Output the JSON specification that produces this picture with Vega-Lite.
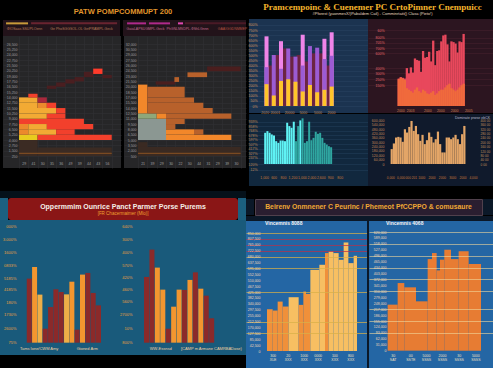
{
"$schema":"https://vega.github.io/schema/vega-lite/v6.json",
"background":"#000000",
"padding":0,
"spacing":0,
"resolve":{"scale":{"color":"independent"}},
"config":{
 "view":{"stroke":null},
 "concat":{"spacing":0},
 "font":"Liberation Sans",
 "axis":{"minExtent":0,"domain":false,"ticks":false,"grid":false,"labelPadding":1,"labelFontSize":3.5,"labelOverlap":false,"labelFlush":false,"labelFont":"Liberation Sans"}
},
"datasets":{
 "hl":[
  {"c0":0,"c1":2,"r0":0,"r1":3,"k":"B"},
  {"c0":2,"c1":10,"r0":0,"r1":1.6,"k":"B"},
  {"c0":0,"c1":10,"r0":0.4,"r1":0.6,"k":"BL"},
  {"c0":0,"c1":2,"r0":3,"r1":4,"k":"Y"},
  {"c0":2,"c1":10,"r0":3,"r1":4,"k":"R"},
  {"c0":0,"c1":1,"r0":4,"r1":5,"k":"O"},
  {"c0":1,"c1":4,"r0":4,"r1":5,"k":"L"},
  {"c0":4,"c1":6,"r0":4,"r1":5,"k":"R"},
  {"c0":0,"c1":1,"r0":5,"r1":6,"k":"O"},
  {"c0":1,"c1":3,"r0":5,"r1":6,"k":"L"},
  {"c0":3,"c1":8,"r0":5,"r1":6,"k":"R"},
  {"c0":0,"c1":7,"r0":6,"r1":7,"k":"R"},
  {"c0":0,"c1":3,"r0":7,"r1":8,"k":"L"},
  {"c0":3,"c1":5,"r0":7,"r1":8,"k":"R"},
  {"c0":0,"c1":4,"r0":8,"r1":9,"k":"L"},
  {"c0":4,"c1":5,"r0":8,"r1":9,"k":"R"},
  {"c0":0,"c1":2,"r0":9,"r1":10,"k":"L"},
  {"c0":2,"c1":3,"r0":9,"r1":10,"k":"O"},
  {"c0":3,"c1":4,"r0":9,"r1":10,"k":"R"},
  {"c0":0,"c1":2,"r0":10,"r1":11,"k":"L"},
  {"c0":2,"c1":3,"r0":10,"r1":11,"k":"C"},
  {"c0":1,"c1":2,"r0":11,"r1":11.7,"k":"R"},
  {"c0":3,"c1":4,"r0":12.6,"r1":13.2,"k":"D"},
  {"c0":4,"c1":5,"r0":13,"r1":13.8,"k":"D"},
  {"c0":5,"c1":6,"r0":13.6,"r1":14.4,"k":"D"},
  {"c0":6,"c1":7,"r0":14,"r1":14.8,"k":"D"},
  {"c0":7,"c1":8,"r0":14.8,"r1":15.8,"k":"D"},
  {"c0":8,"c1":9,"r0":15.4,"r1":16.4,"k":"BR"},
  {"c0":9,"c1":10,"r0":14.6,"r1":15.2,"k":"D"}
 ],
 "hr":[
  {"c0":0,"c1":11,"r0":0,"r1":1.7,"k":"B"},
  {"c0":0,"c1":1,"r0":1.7,"r1":2.6,"k":"B"},
  {"c0":0,"c1":11,"r0":0.4,"r1":0.6,"k":"BL"},
  {"c0":0,"c1":3,"r0":3,"r1":7,"k":"G"},
  {"c0":3,"c1":10,"r0":3,"r1":4,"k":"OB"},
  {"c0":3,"c1":6,"r0":4,"r1":5,"k":"OB"},
  {"c0":6,"c1":7,"r0":4,"r1":5,"k":"OM"},
  {"c0":3,"c1":4,"r0":5,"r1":6,"k":"OM"},
  {"c0":3,"c1":5,"r0":6,"r1":7,"k":"OM"},
  {"c0":0,"c1":2,"r0":7,"r1":8,"k":"GG"},
  {"c0":2,"c1":3,"r0":7,"r1":8,"k":"OB"},
  {"c0":3,"c1":10,"r0":7,"r1":8,"k":"OM"},
  {"c0":0,"c1":1,"r0":8,"r1":13.4,"k":"OB"},
  {"c0":1,"c1":8,"r0":8,"r1":9,"k":"OM"},
  {"c0":1,"c1":7,"r0":9,"r1":10,"k":"OM"},
  {"c0":1,"c1":6,"r0":10,"r1":11,"k":"OM"},
  {"c0":1,"c1":5,"r0":11,"r1":13,"k":"OM"},
  {"c0":1.9,"c1":4,"r0":13.4,"r1":14,"k":"D"},
  {"c0":3.9,"c1":4.4,"r0":13.9,"r1":14.8,"k":"OM"},
  {"c0":5.3,"c1":7.4,"r0":14.8,"r1":15.7,"k":"OM"},
  {"c0":7.4,"c1":11,"r0":15.9,"r1":16.8,"k":"D"}
 ],
 "tra":[{"i":1,"Y":27,"P":48},{"i":2,"Y":13,"P":63},{"i":3,"Y":31,"P":46},{"i":4,"Y":33,"P":71},{"i":5,"Y":30,"P":61},{"i":6,"Y":18,"P":50},{"i":7,"Y":26,"P":74},{"i":8,"Y":17,"P":72},{"i":9,"Y":20,"P":58},{"i":10,"Y":24,"P":62}],
 "trak":[{"i":1,"K":86},{"i":3,"K":80},{"i":6,"K":88},{"i":9,"K":83},{"i":10,"K":91}],
 "trad":[{"j":1.5,"v":50},{"j":2.5,"v":63},{"j":3.5,"v":71},{"j":4.5,"v":61},{"j":5.5,"v":63},{"j":6.5,"v":55},{"j":7.5,"v":65},{"j":8.5,"v":65},{"j":9.5,"v":50}],
 "trb":[{"i":1,"R":37,"O":36},{"i":2,"R":39,"O":38},{"i":3,"R":38,"O":37},{"i":4,"R":37,"O":35},{"i":5,"R":51,"O":24},{"i":6,"R":44,"O":22},{"i":7,"R":52,"O":20},{"i":8,"R":45,"O":18},{"i":9,"R":64,"O":22},{"i":10,"R":62,"O":25},{"i":11,"R":61,"O":20},{"i":12,"R":46,"O":18},{"i":13,"R":74,"O":22},{"i":14,"R":65,"O":20},{"i":15,"R":66,"O":17},{"i":16,"R":73,"O":16},{"i":17,"R":60,"O":18},{"i":18,"R":88,"O":20},{"i":19,"R":55,"O":15},{"i":20,"R":74,"O":17},{"i":21,"R":75,"O":20},{"i":22,"R":87,"O":22},{"i":23,"R":95,"O":22},{"i":24,"R":96,"O":25},{"i":25,"R":83,"O":28},{"i":26,"R":60,"O":30},{"i":27,"R":87,"O":24},{"i":28,"R":86,"O":22},{"i":29,"R":84,"O":20},{"i":30,"R":72,"O":22},{"i":31,"R":87,"O":25},{"i":32,"R":86,"O":28},{"i":33,"R":97,"O":30}],
 "trc":[{"i":1,"v":67.4,"c":"c"},{"i":2,"v":71.0,"c":"c"},{"i":3,"v":67.4,"c":"c"},{"i":4,"v":63.8,"c":"c"},{"i":5,"v":61.6,"c":"c"},{"i":6,"v":49.3,"c":"c"},{"i":7,"v":45.7,"c":"c"},{"i":8,"v":50.7,"c":"c"},{"i":9,"v":50.7,"c":"c"},{"i":10,"v":49.3,"c":"c"},{"i":11,"v":89.1,"c":"c"},{"i":12,"v":81.9,"c":"c"},{"i":13,"v":78.3,"c":"c"},{"i":14,"v":91.3,"c":"c"},{"i":15,"v":49.3,"c":"t"},{"i":16,"v":81.9,"c":"t"},{"i":17,"v":94.2,"c":"c"},{"i":18,"v":98.6,"c":"t"},{"i":19,"v":45.7,"c":"t"},{"i":20,"v":49.3,"c":"t"},{"i":21,"v":91.3,"c":"t"},{"i":22,"v":51.4,"c":"t"},{"i":23,"v":56.5,"c":"t"},{"i":24,"v":69.6,"c":"t"},{"i":25,"v":65.2,"c":"t"},{"i":26,"v":67.4,"c":"t"},{"i":27,"v":56.5,"c":"t"},{"i":28,"v":45.7,"c":"t"},{"i":29,"v":42.0,"c":"t"},{"i":30,"v":38.4,"c":"t"},{"i":31,"v":36.2,"c":"t"}],
 "trd":[{"i":1,"v":34.1},{"i":2,"v":47.0},{"i":3,"v":60.6},{"i":4,"v":62.1},{"i":5,"v":60.6},{"i":6,"v":50.8},{"i":7,"v":79.5},{"i":8,"v":72.0},{"i":9,"v":84.8},{"i":10,"v":98.5},{"i":11,"v":75.8},{"i":12,"v":87.1},{"i":13,"v":68.2},{"i":14,"v":53.0},{"i":15,"v":66.7},{"i":16,"v":45.5},{"i":17,"v":54.5},{"i":18,"v":72.0},{"i":19,"v":62.1},{"i":20,"v":49.2},{"i":21,"v":56.8},{"i":22,"v":74.2},{"i":23,"v":45.5},{"i":24,"v":26.5},{"i":25,"v":26.5},{"i":26,"v":60.6},{"i":27,"v":60.6},{"i":28,"v":56.8},{"i":29,"v":60.6},{"i":30,"v":66.7},{"i":31,"v":56.8},{"i":32,"v":45.5},{"i":33,"v":68.2},{"i":34,"v":87.1}],
 "bla":[{"i":1,"v":54.1,"c":"d"},{"i":2,"v":63.9,"c":"o"},{"i":3,"v":40.6,"c":"l"},{"i":4,"v":11.8,"c":"d"},{"i":5,"v":30.1,"c":"d"},{"i":6,"v":45.1,"c":"d"},{"i":7,"v":42.8,"c":"d"},{"i":8,"v":40.8,"c":"l"},{"i":9,"v":51.5,"c":"o"},{"i":10,"v":11.0,"c":"d"},{"i":11,"v":57.5,"c":"o"},{"i":12,"v":58.9,"c":"d"},{"i":13,"v":42.0,"c":"d"},{"i":14,"v":31.5,"c":"d"}],
 "blb":[{"i":1,"v":55.5,"c":"d"},{"i":2,"v":78.6,"c":"d"},{"i":3,"v":63.4,"c":"o"},{"i":4,"v":44.8,"c":"o"},{"i":5,"v":11.8,"c":"d"},{"i":6,"v":30.4,"c":"o"},{"i":7,"v":44.8,"c":"o"},{"i":8,"v":44.5,"c":"d"},{"i":9,"v":53.0,"c":"o"},{"i":10,"v":59.4,"c":"d"},{"i":11,"v":45.6,"c":"o"},{"i":12,"v":39.7,"c":"d"},{"i":13,"v":20.6,"c":"d"}],
 "bra":[{"x0":0,"x1":1.13,"v":35.4,"k":"o"},{"x0":1.13,"x1":2.13,"v":34.3,"k":"o"},{"x0":2.13,"x1":3.13,"v":41.9,"k":"o"},{"x0":3.13,"x1":4.33,"v":37.7,"k":"o"},{"x0":4.33,"x1":6.33,"v":45.6,"k":"g"},{"x0":6.33,"x1":7.27,"v":39.1,"k":"o"},{"x0":7.27,"x1":7.8,"v":50.4,"k":"o"},{"x0":7.8,"x1":8.67,"v":48.4,"k":"o"},{"x0":8.67,"x1":10.47,"v":68.8,"k":"g"},{"x0":10.47,"x1":11.6,"v":73.1,"k":"g"},{"x0":11.6,"x1":12.33,"v":83.0,"k":"o"},{"x0":12.33,"x1":13.27,"v":84.4,"k":"g"},{"x0":13.27,"x1":14.33,"v":83.0,"k":"g"},{"x0":14.33,"x1":15.33,"v":77.3,"k":"g"},{"x0":15.33,"x1":16.27,"v":92.0,"k":"g"},{"x0":16.27,"x1":17.33,"v":74.5,"k":"g"},{"x0":17.33,"x1":18.0,"v":80.7,"k":"g"}],
 "brb":[{"x0":0,"x1":2,"v":38.8},{"x0":2,"x1":3.33,"v":57.0},{"x0":3.33,"x1":5.67,"v":53.4},{"x0":5.67,"x1":8,"v":41.6},{"x0":8,"x1":8.87,"v":77.2},{"x0":8.87,"x1":9.8,"v":82.3},{"x0":9.8,"x1":10.47,"v":67.7},{"x0":10.47,"x1":11.33,"v":76.7},{"x0":11.33,"x1":12.67,"v":85.1},{"x0":12.67,"x1":14.2,"v":77.2},{"x0":14.2,"x1":16.2,"v":83.7},{"x0":16.2,"x1":18.67,"v":73.0}],
 "leg":[{"a":"ΦIOSaas.SSUPLOenn","b":"Ge PhoSGGSOL.OL GetPRAMPL.Geck","c":"GaiaLAPSUGMPL.Geck","d":"PhGNLMSDPL.ΦShLGnnn","e":"GAAIGGDNMMEP"}]
},
"vconcat":[
 {"resolve":{"scale":{"color":"independent"}},"hconcat":[
  {"resolve":{"scale":{"color":"independent"}},"vconcat":[
   {"width":246,"height":20,"data":{"values":[{"t":"PATW POMPCOMMUPT 200"}]},"mark":{"type":"text","fontSize":7.5,"fontWeight":"bold","color":"#e0952c","dy":2},"encoding":{"text":{"field":"t","type":"nominal"}}},
   {"resolve":{"scale":{"color":"independent"}},"hconcat":[
    {"width":3,"height":16,"data":{"values":[]},"mark":"text"},
    {"width":117,"height":16,"view":{"fill":"#22131a"},"data":{"name":"leg"},"resolve":{"axis":{"x":"independent","y":"independent"}},"layer":[
      {"mark":{"type":"rule","color":"#c89a3a","strokeWidth":2},"encoding":{"x":{"datum":0.026,"type":"quantitative","scale":{"domain":[0,1],"nice":false,"zero":false},"axis":null},"x2":{"datum":0.214},"y":{"datum":0.79,"type":"quantitative","scale":{"domain":[0,1],"nice":false,"zero":false},"axis":null}}},
      {"mark":{"type":"rule","color":"#6a2430","strokeWidth":2},"encoding":{"x":{"datum":0.24,"type":"quantitative","axis":null},"x2":{"datum":0.975},"y":{"datum":0.79,"type":"quantitative","axis":null}}},
      {"mark":{"type":"text","fontSize":3.5,"color":"#b87a58","dx":-37,"dy":0.5},"encoding":{"text":{"field":"a","type":"nominal"}}},
      {"mark":{"type":"text","fontSize":3.5,"color":"#b87a58","dx":20,"dy":0.5},"encoding":{"text":{"field":"b","type":"nominal"}}}]},
    {"width":3,"height":16,"data":{"values":[]},"mark":"text"},
    {"width":123,"height":16,"view":{"fill":"#22131a"},"data":{"name":"leg"},"resolve":{"axis":{"x":"independent","y":"independent"}},"layer":[
      {"mark":{"type":"rule","color":"#b02a8a","strokeWidth":2},"encoding":{"x":{"datum":0.033,"type":"quantitative","scale":{"domain":[0,1],"nice":false,"zero":false},"axis":null},"x2":{"datum":0.187},"y":{"datum":0.79,"type":"quantitative","scale":{"domain":[0,1],"nice":false,"zero":false},"axis":null}}},
      {"mark":{"type":"rule","color":"#b02a8a","strokeWidth":2},"encoding":{"x":{"datum":0.211,"type":"quantitative","axis":null},"x2":{"datum":0.382},"y":{"datum":0.79,"type":"quantitative","axis":null}}},
      {"mark":{"type":"rule","color":"#e048b0","strokeWidth":2},"encoding":{"x":{"datum":0.447,"type":"quantitative","axis":null},"x2":{"datum":0.488},"y":{"datum":0.79,"type":"quantitative","axis":null}}},
      {"mark":{"type":"rule","color":"#4a1a26","strokeWidth":2},"encoding":{"x":{"datum":0.504,"type":"quantitative","axis":null},"x2":{"datum":1.0},"y":{"datum":0.79,"type":"quantitative","axis":null}}},
      {"mark":{"type":"text","fontSize":3.5,"color":"#c06a90","dx":-39,"dy":0.5},"encoding":{"text":{"field":"c","type":"nominal"}}},
      {"mark":{"type":"text","fontSize":3.5,"color":"#c06a90","dx":3,"dy":0.5},"encoding":{"text":{"field":"d","type":"nominal"}}},
      {"mark":{"type":"text","fontSize":3.5,"color":"#b05040","dx":48,"dy":0.5},"encoding":{"text":{"field":"e","type":"nominal"}}}]}
   ],"spacing":0},
   {"resolve":{"scale":{"color":"independent"}},"hconcat":[
    {"width":3,"height":132,"data":{"values":[]},"mark":"text"},
    {"width":118,"height":132,"view":{"fill":"#262628"},"resolve":{"axis":{"x":"independent","y":"independent"}},"layer":[
      {"data":{"name":"hl"},"mark":{"type":"rect"},"encoding":{
        "x":{"field":"c0","type":"quantitative","scale":{"domain":[-1.73,11.0],"nice":false,"zero":false},"axis":{"title":null,"orient":"bottom","values":[0,1,2,3,4,5,6,7,8,9,10],"labelExpr":"['29','41','30','35','36','49','39','44','43','56',''][datum.value]","labelOffset":4.6,"offset":-8,"grid":true,"gridColor":"#313134","gridWidth":0.6,"labelColor":"#a0a0a0"}},
        "x2":{"field":"c1"},
        "y":{"field":"r0","type":"quantitative","scale":{"domain":[-2.25,22.52],"nice":false,"zero":false},"axis":{"title":null,"orient":"left","values":[0,1,2,3,4,5,6,7,8,9,10,11,12,13,14,15,16,17,18,19,20,21],"labelExpr":"format(datum.value*1250+250,',')","offset":-15,"grid":true,"gridColor":"#313134","gridWidth":0.6,"labelColor":"#9a9a9a"}},
        "y2":{"field":"r1"},
        "color":{"field":"k","type":"nominal","scale":{"domain":["Y","L","O","R","C","D","BR","B","BL"],"range":["#e8cc1e","#f2aa34","#ec8a2c","#f2402c","#a8283c","#4a1e20","#ff3b2b","#3b2b23","#7a4a22"]},"legend":null}}},
      {"mark":{"type":"rule","color":"#b5b5b5","strokeWidth":1},"encoding":{"x":{"datum":-0.2,"axis":null},"x2":{"datum":10.6},"y":{"datum":0,"axis":null}}}
    ]},
    {"width":3,"height":132,"data":{"values":[]},"mark":"text"},
    {"width":122,"height":132,"view":{"fill":"#262628"},"resolve":{"axis":{"x":"independent","y":"independent"}},"layer":[
      {"data":{"name":"hr"},"mark":{"type":"rect"},"encoding":{
        "x":{"field":"c0","type":"quantitative","scale":{"domain":[-1.5,11.57],"nice":false,"zero":false},"axis":{"title":null,"orient":"bottom","values":[0,1,2,3,4,5,6,7,8,9,10,11],"labelExpr":"['21','39','29','30','22','30','44','31','29','39','30',''][datum.value]","labelOffset":4.6,"offset":-8,"grid":true,"gridColor":"#313134","gridWidth":0.6,"labelColor":"#a0a0a0"}},
        "x2":{"field":"c1"},
        "y":{"field":"r0","type":"quantitative","scale":{"domain":[-2.25,22.52],"nice":false,"zero":false},"axis":{"title":null,"orient":"left","values":[0,1,2,3,4,5,6,7,8,9,10,11,12,13,14,15,16,17,18,19,20,21],"labelExpr":"format(datum.value*1500+500,',')","offset":-13,"grid":true,"gridColor":"#313134","gridWidth":0.6,"labelColor":"#9a9a9a"}},
        "y2":{"field":"r1"},
        "color":{"field":"k","type":"nominal","scale":{"domain":["G","GG","OB","OM","D","B","BL"],"range":["#8b9792","#8fa77a","#f2872a","#b8612b","#4a1e1e","#3a2a22","#7a4a22"]},"legend":null}}},
      {"mark":{"type":"rule","color":"#b5b5b5","strokeWidth":1},"encoding":{"x":{"datum":-0.2,"axis":null},"x2":{"datum":11.4},"y":{"datum":0,"axis":null}}}
    ]}
   ],"spacing":0}
  ],"spacing":0},
  {"resolve":{"scale":{"color":"independent"}},"vconcat":[
   {"width":247,"height":19,"data":{"values":[{"t":"Pramcempoinc & Cuenemer  PC CrtoPimner  Cnempuicc","s":"#Pforest (yuonmesX/)Pabaldem Cail) - Comminrtaiti() Clasa (Pieto!)"}]},"layer":[
     {"mark":{"type":"text","font":"Liberation Serif","fontSize":9,"fontWeight":"bold","color":"#f4b42c","dy":-3},"encoding":{"text":{"field":"t","type":"nominal"}}},
     {"mark":{"type":"text","fontSize":4,"color":"#e8dcc0","dy":4.5},"encoding":{"text":{"field":"s","type":"nominal"}}}]},
   {"resolve":{"scale":{"color":"independent"}},"hconcat":[
    {"width":119,"height":94,"view":{"fill":"#1b3350"},"resolve":{"axis":{"x":"independent","y":"independent"}},"layer":[
      {"data":{"name":"trad"},"mark":{"type":"bar","size":5,"color":"#6b2443"},"encoding":{
        "x":{"field":"j","type":"quantitative","scale":{"domain":[-0.73,14.33],"nice":false,"zero":false},"axis":{"title":null,"orient":"bottom","values":[0.75,2.14,4.11,6.01,8.04,9.9],"labelExpr":"['2020','20001','20000','5000','5000','2000'][indexof([0.75,2.14,4.11,6.01,8.04,9.9],datum.value)]","offset":-4,"labelColor":"#c89060"}},
        "y":{"field":"v","type":"quantitative","scale":{"domain":[-8.6,107.4],"nice":false,"zero":false},"axis":{"title":null,"orient":"left","values":[0,6.25,12.5,18.75,25,31.25,37.5,43.75,50,56.25,62.5,68.75,75,81.25,87.5,93.75,100],"labelExpr":"format(datum.value*8,'d')+'%'","offset":-9,"grid":true,"gridColor":"#2b4562","gridWidth":0.5,"labelColor":"#d0955a"}},
        "y2":{"datum":0}}},
      {"data":{"name":"trak"},"mark":{"type":"bar","size":4,"color":"#ef84e8"},"encoding":{"x":{"field":"i","type":"quantitative","axis":null},"y":{"field":"K","type":"quantitative","axis":null},"y2":{"datum":0}}},
      {"data":{"name":"tra"},"mark":{"type":"bar","size":4,"color":"#9b5bd3"},"encoding":{"x":{"field":"i","type":"quantitative","axis":null},"y":{"field":"P","type":"quantitative","axis":null},"y2":{"datum":0}}},
      {"data":{"name":"tra"},"mark":{"type":"bar","size":4,"color":"#ffc52a"},"encoding":{"x":{"field":"i","type":"quantitative","axis":null},"y":{"field":"Y","type":"quantitative","axis":null},"y2":{"datum":0}}},
      {"mark":{"type":"rule","color":"#8598ad","strokeWidth":0.8},"encoding":{"x":{"datum":12.18,"axis":null},"y":{"datum":-2.5,"axis":null},"y2":{"datum":106}}},
      {"mark":{"type":"rule","color":"#8598ad","strokeWidth":0.8},"encoding":{"x":{"datum":0.55,"axis":null},"x2":{"datum":12.18},"y":{"datum":-2.5,"axis":null}}}
    ]},
    {"width":128,"height":94,"view":{"fill":"#2c1520"},"resolve":{"axis":{"x":"independent","y":"independent"}},"layer":[
      {"data":{"name":"trb"},"mark":{"type":"bar","size":2.3,"color":"#e8485c"},"encoding":{
        "x":{"field":"i","type":"quantitative","scale":{"domain":[-11.7,46.5],"nice":false,"zero":false},"axis":{"title":null,"orient":"bottom","values":[1.8,6.6,15.1,21.5,28.3,35.3],"labelExpr":"['2000','2003','2000','2000','2000','2005'][indexof([1.8,6.6,15.1,21.5,28.3,35.3],datum.value)]","offset":-6,"labelColor":"#c88050"}},
        "y":{"field":"R","type":"quantitative","scale":{"domain":[-9.4,117.1],"nice":false,"zero":false},"axis":{"title":null,"orient":"left","values":[28,36,44,51,71,78,85,92,102],"labelExpr":"['150%','250%','300%','400%','600%','700%','705%','800%','60%'][indexof([28,36,44,51,71,78,85,92,102],datum.value)]","offset":-17,"grid":true,"gridColor":"#45202c","gridWidth":0.6,"labelColor":"#e06a6a"}},
        "y2":{"datum":0}}},
      {"data":{"name":"trb"},"mark":{"type":"bar","size":2.3,"color":"#f06a3c"},"encoding":{"x":{"field":"i","type":"quantitative","axis":null},"y":{"field":"O","type":"quantitative","axis":null},"y2":{"datum":0}}},
      {"mark":{"type":"rule","color":"#8c8ca0","strokeWidth":0.8},"encoding":{"x":{"datum":42.8,"axis":null},"y":{"datum":-3,"axis":null},"y2":{"datum":112}}},
      {"mark":{"type":"rule","color":"#6a3a48","strokeWidth":0.8},"encoding":{"x":{"datum":-8,"axis":null},"x2":{"datum":42.8},"y":{"datum":-3,"axis":null}}}
    ]}
   ],"spacing":0},
   {"resolve":{"scale":{"color":"independent"}},"hconcat":[
    {"width":119,"height":72,"view":{"fill":"#11283e"},"resolve":{"axis":{"x":"independent","y":"independent"}},"layer":[
      {"data":{"name":"trc"},"mark":{"type":"bar","size":2},"encoding":{
        "x":{"field":"i","type":"quantitative","scale":{"domain":[-4.1,45.5],"nice":false,"zero":false},"axis":{"title":null,"orient":"bottom","values":[0.5,4.8,9.1,13.4,17.7,22,26.3,30.6,34.9],"labelExpr":"['1,000','600','800','1,200','1,000','2,000','2,600','900','800'][indexof([0.5,4.8,9.1,13.4,17.7,22,26.3,30.6,34.9],datum.value)]","offset":-12,"labelColor":"#c8783c"}},
        "y":{"field":"v","type":"quantitative","scale":{"domain":[-47.5,108],"nice":false,"zero":false},"axis":{"title":null,"orient":"left","values":[-12,0,13,23,33,43,53,62,72,82,91],"labelExpr":"format(datum.value*9+120,'d')+'%'","offset":-9,"grid":true,"gridColor":"#24405c","gridWidth":0.5,"labelColor":"#c08850"}},
        "y2":{"datum":0},
        "color":{"field":"c","type":"nominal","scale":{"domain":["c","t"],"range":["#5ff2f4","#2fa6a0"]},"legend":null}}},
      {"mark":{"type":"rule","color":"#3aa088","strokeWidth":1.5},"encoding":{"x":{"datum":0.5,"axis":null},"x2":{"datum":44},"y":{"datum":0,"axis":null}}},
      {"mark":{"type":"rule","color":"#8a9aac","strokeWidth":0.8},"encoding":{"x":{"datum":38.4,"axis":null},"y":{"datum":-25,"axis":null},"y2":{"datum":105}}},
      {"mark":{"type":"rule","color":"#5a6a7a","strokeWidth":0.8},"encoding":{"x":{"datum":0,"axis":null},"y":{"datum":-25,"axis":null},"y2":{"datum":105}}}
    ]},
    {"width":128,"height":72,"view":{"fill":"#101a2c"},"resolve":{"axis":{"x":"independent","y":"independent"}},"title":{"text":"Dominate prwse ebCK","anchor":"end","frame":"group","offset":-7,"dx":-6,"fontSize":3.5,"color":"#b8b8c8","baseline":"middle","fontWeight":"normal"},"layer":[
      {"data":{"name":"trd"},"mark":{"type":"bar","size":2.2,"color":"#e3a567"},"encoding":{
        "x":{"field":"i","type":"quantitative","scale":{"domain":[-7.5,46.1],"nice":false,"zero":false},"axis":{"title":null,"orient":"bottom","values":[0.33,5,9.7,14.4,19.1,23.8,28.5,33.2,37.9],"labelExpr":"['0,000','0,000','000 201','1000','2000','2000','3000','2000','4,000'][indexof([0.33,5,9.7,14.4,19.1,23.8,28.5,33.2,37.9],datum.value)]","offset":-12,"labelColor":"#c8783c","labelFontSize":3.2}},
        "y":{"field":"v","type":"quantitative","scale":{"domain":[-50.3,114.4],"nice":false,"zero":false},"axis":{"title":null,"orient":"left","values":[0,10,20,30,40,50,60,70,80,90,100],"labelExpr":"format(datum.value*6000,',d')","offset":-17,"labelColor":"#c08a5a"}},
        "y2":{"datum":0}}},
      {"data":{"name":"trd"},"mark":{"type":"bar","size":2.2,"opacity":0},"encoding":{
        "x":{"field":"i","type":"quantitative","axis":null},
        "y":{"field":"v","type":"quantitative","axis":{"title":null,"orient":"right","values":[0,10,20,30,40,50,60,70,80,90,100],"labelExpr":"format(datum.value*4,'d')+' 00'","offset":-17,"labelColor":"#c0905c","labelFontSize":3.2}},
        "y2":{"datum":0}}},
      {"mark":{"type":"rule","color":"#7a8296","strokeWidth":0.8},"encoding":{"x":{"datum":-0.38,"axis":null},"y":{"datum":-15,"axis":null},"y2":{"datum":110}}}
    ]}
   ],"spacing":0},
   {"width":247,"height":5,"data":{"values":[]},"mark":"text"}
  ],"spacing":0}
 ],"spacing":0},
 {"resolve":{"scale":{"color":"independent"}},"hconcat":[
  {"resolve":{"scale":{"color":"independent"}},"vconcat":[
   {"width":246,"height":7,"view":{"fill":"#05111a"},"data":{"values":[]},"mark":"text"},
   {"resolve":{"scale":{"color":"independent"}},"hconcat":[
    {"width":8,"height":22,"view":{"fill":"#1c6080"},"data":{"values":[]},"mark":"text"},
    {"width":230,"height":22,"view":{"fill":"#8a1616","cornerRadius":3},"data":{"values":[{"t":"Oppermmim Ounrice Panct Parmer Porse Purems","s":"[FR Chacermaimer (Mlo)]"}]},"layer":[
      {"mark":{"type":"text","fontSize":7,"fontWeight":"bold","color":"#f4eee8","dy":-2.5},"encoding":{"text":{"field":"t","type":"nominal"}}},
      {"mark":{"type":"text","fontSize":4.5,"color":"#f0a030","dy":5},"encoding":{"text":{"field":"s","type":"nominal"}}}]},
    {"width":8,"height":22,"view":{"fill":"#1c6080"},"data":{"values":[]},"mark":"text"}
   ],"spacing":0},
   {"resolve":{"scale":{"color":"independent"}},"hconcat":[
    {"width":118,"height":135,"view":{"fill":"#195a7b"},"resolve":{"axis":{"x":"independent","y":"independent"}},"layer":[
      {"mark":{"type":"rule","color":"#4f8fae","strokeWidth":0.8},"encoding":{"x":{"datum":4.7,"axis":null}}},
      {"mark":{"type":"rule","color":"#4f8fae","strokeWidth":0.8},"encoding":{"x":{"datum":10.71,"axis":null}}},
      {"mark":{"type":"rect","color":"#7a1414","cornerRadius":2},"encoding":{"x":{"datum":-2.18,"axis":null},"x2":{"datum":16.72},"y":{"datum":-0.8,"axis":null},"y2":{"datum":-10.4}}},
      {"data":{"name":"bla"},"mark":{"type":"bar","size":5},"encoding":{
        "x":{"field":"i","type":"quantitative","scale":{"domain":[-3.55,16.72],"nice":false,"zero":false},"axis":{"title":null,"orient":"bottom","values":[2.76,11.79],"labelExpr":"['Tams Ione/CWM Amy','Gioned Arm'][indexof([2.76,11.79],datum.value)]","offset":-10,"labelColor":"#f0d0a0","labelFontSize":4}},
        "y":{"field":"v","type":"quantitative","scale":{"domain":[-10.4,103.6],"nice":false,"zero":false},"axis":{"title":null,"orient":"left","values":[0,12,24,34,44.5,54.6,65,76,87,98],"labelExpr":"['75%','2600%','1730%','180%','4185%','5185%','0833%','1600%','3.000%','000%'][indexof([0,12,24,34,44.5,54.6,65,76,87,98],datum.value)]","offset":-17,"labelColor":"#eaa040","labelFontSize":4}},
        "y2":{"datum":0},
        "color":{"field":"c","type":"nominal","scale":{"domain":["o","l","d"],"range":["#f3962f","#eeae47","#8b2a2a"]},"legend":null}}},
      {"mark":{"type":"rule","color":"#e08a3a","strokeWidth":0.8},"encoding":{"x":{"datum":-2.18,"axis":null},"x2":{"datum":16.72},"y":{"datum":0,"axis":null}}}
    ]},
    {"width":128,"height":135,"view":{"fill":"#195a7b"},"resolve":{"axis":{"x":"independent","y":"independent"}},"layer":[
      {"mark":{"type":"rule","color":"#4f8fae","strokeWidth":0.8},"encoding":{"x":{"datum":2.61,"axis":null}}},
      {"mark":{"type":"rule","color":"#4f8fae","strokeWidth":0.8},"encoding":{"x":{"datum":7.71,"axis":null}}},
      {"mark":{"type":"rule","color":"#4f8fae","strokeWidth":0.8},"encoding":{"x":{"datum":15.18,"axis":null}}},
      {"mark":{"type":"rect","color":"#7a1414","cornerRadius":2},"encoding":{"x":{"datum":-1.12,"axis":null},"x2":{"datum":17.04},"y":{"datum":-0.8,"axis":null},"y2":{"datum":-10.4}}},
      {"data":{"name":"blb"},"mark":{"type":"bar","size":5},"encoding":{
        "x":{"field":"i","type":"quantitative","scale":{"domain":[-3.33,18.4],"nice":false,"zero":false},"axis":{"title":null,"orient":"bottom","values":[3.51,12.85],"labelExpr":"['WW-Essnsd','[CAMP m Armane CAMRBADose)'][indexof([3.51,12.85],datum.value)]","offset":-10,"labelColor":"#f0d0a0","labelFontSize":4}},
        "y":{"field":"v","type":"quantitative","scale":{"domain":[-10.4,103.6],"nice":false,"zero":false},"axis":{"title":null,"orient":"left","values":[0,12.1,23.9,34.4,44.5,54.9,64.8,76.1,86.8,98],"labelExpr":"['800%','10%','2700%','560%','460%','420%','570%','400%','300%','640%'][indexof([0,12.1,23.9,34.4,44.5,54.9,64.8,76.1,86.8,98],datum.value)]","offset":-15,"labelColor":"#eaa040","labelFontSize":4}},
        "y2":{"datum":0},
        "color":{"field":"c","type":"nominal","scale":{"domain":["o","l","d"],"range":["#f3962f","#eeae47","#8b2a2a"]},"legend":null}}},
      {"mark":{"type":"rule","color":"#e08a3a","strokeWidth":0.8},"encoding":{"x":{"datum":-1.12,"axis":null},"x2":{"datum":14.6},"y":{"datum":0,"axis":null}}},
      {"mark":{"type":"rule","color":"#5ab4e8","strokeWidth":1.2},"encoding":{"x":{"datum":14.6,"axis":null},"x2":{"datum":18.4},"y":{"datum":0.6,"axis":null}}}
    ]}
   ],"spacing":0}
  ],"spacing":0},
  {"resolve":{"scale":{"color":"independent"}},"vconcat":[
   {"width":247,"height":7,"data":{"values":[]},"mark":"text"},
   {"resolve":{"scale":{"color":"independent"}},"hconcat":[
    {"width":8,"height":16,"view":{"fill":"#0b1828"},"data":{"values":[]},"mark":"text"},
    {"width":227,"height":16,"view":{"fill":"#2a1e30","stroke":"#50404c"},"data":{"values":[{"t":"Beirenv Onmnener C Peurinc / Phemeot PfCCPPO & comusaure"}]},"mark":{"type":"text","fontSize":6.8,"fontWeight":"bold","color":"#f0a834"},"encoding":{"text":{"field":"t","type":"nominal"}}},
    {"width":12,"height":16,"view":{"fill":"#0b1828"},"data":{"values":[]},"mark":"text"}
   ],"spacing":0},
   {"width":247,"height":5,"view":{"fill":"#0b1828"},"data":{"values":[]},"mark":"text"},
   {"resolve":{"scale":{"color":"independent"}},"hconcat":[
    {"width":121,"height":147,"view":{"fill":"#2466a4"},"resolve":{"axis":{"x":"independent","y":"independent"}},"title":{"text":"Vincemnis 8088","anchor":"start","frame":"group","offset":-7,"dx":19,"fontSize":5,"fontWeight":"bold","color":"#f4f4f4","baseline":"middle"},"layer":[
      {"data":{"name":"bra"},"mark":{"type":"rect"},"encoding":{
        "x":{"field":"x0","type":"quantitative","scale":{"domain":[-4.2,20.0],"nice":false,"zero":false},"axis":{"title":null,"orient":"bottom","values":[1.13,4.13,7.33,10.13,13.47,16.67],"labelExpr":"[['300','XLE'],['20','XXX'],['1000','XXX'],['0000','XXX'],['100','XXX'],['800','XXX']][indexof([1.13,4.13,7.33,10.13,13.47,16.67],datum.value)]","offset":-16,"labelColor":"#f0e0c0","labelLineHeight":4.5}},
        "x2":{"field":"x1"},
        "y":{"field":"v","type":"quantitative","scale":{"domain":[-14.4,110.2],"nice":false,"zero":false},"axis":{"title":null,"orient":"left","values":[0,5,10,15,20,25,30,35,40,45,50,55,60,65,70,75,80,85,90,95,100],"labelExpr":"format(datum.value*8500,',d')","offset":-15,"labelColor":"#f0dcb8","grid":true,"zindex":1,"gridWidth":0.8,"gridColor":{"condition":{"test":"indexof([85,90,95],datum.value) >= 0","value":"#b8304a"},"value":"#d8b048"},"gridOpacity":{"condition":{"test":"indexof([15,25,50,70,80,85,90,95,100],datum.value) >= 0","value":0.9},"value":0}}},
        "y2":{"datum":0},
        "color":{"field":"k","type":"nominal","scale":{"domain":["o","g"],"range":["#f0903a","#f7bf62"]},"legend":null}}},
      {"mark":{"type":"rule","color":"#8a2438","strokeWidth":0.8},"encoding":{"x":{"datum":1.0,"axis":null},"y":{"datum":0,"axis":null},"y2":{"datum":97.7}}},
      {"mark":{"type":"rule","color":"#8a2438","strokeWidth":0.8},"encoding":{"x":{"datum":7.33,"axis":null},"y":{"datum":0,"axis":null},"y2":{"datum":97.7}}},
      {"mark":{"type":"rule","color":"#8a2438","strokeWidth":0.8},"encoding":{"x":{"datum":17.47,"axis":null},"y":{"datum":0,"axis":null},"y2":{"datum":97.7}}}
    ]},
    {"width":2,"height":147,"view":{"fill":"#0b1828"},"data":{"values":[]},"mark":"text"},
    {"width":124,"height":147,"view":{"fill":"#2466a4"},"resolve":{"axis":{"x":"independent","y":"independent"}},"title":{"text":"Vincemnis 4068","anchor":"start","frame":"group","offset":-7,"dx":17,"fontSize":5,"fontWeight":"bold","color":"#f4f4f4","baseline":"middle"},"layer":[
      {"mark":{"type":"rule","color":"#62aee0","strokeWidth":2.5},"encoding":{"x":{"datum":1,"axis":null},"y":{"datum":0,"axis":null},"y2":{"datum":96}}},
      {"data":{"name":"brb"},"mark":{"type":"rect","color":"#e77c33"},"encoding":{
        "x":{"field":"x0","type":"quantitative","scale":{"domain":[-3.73,21.07],"nice":false,"zero":false},"axis":{"title":null,"orient":"bottom","values":[1,4.53,7.67,10.87,14.2,17.53],"labelExpr":"[['30','SAT'],['00','SSTE'],['5000','SSSS'],['2000','SSSS'],['30','SSSS'],['5000','SSSS']][indexof([1,4.53,7.67,10.87,14.2,17.53],datum.value)]","offset":-16,"labelColor":"#f0e0c0","labelLineHeight":4.5}},
        "x2":{"field":"x1"},
        "y":{"field":"v","type":"quantitative","scale":{"domain":[-14.6,109.3],"nice":false,"zero":false},"axis":{"title":null,"orient":"left","values":[0,5,10,15,20,25,30,35,40,45,50,55,60,65,70,75,80,85,90,95,100],"labelExpr":"format(datum.value*6200,',d')","offset":-18,"labelColor":"#f0dcb8","grid":true,"zindex":1,"gridWidth":0.8,"gridColor":"#f2d89c","gridOpacity":{"condition":{"test":"indexof([15,25,35,50,60,70,80,90,100],datum.value) >= 0","value":0.75},"value":0}}},
        "y2":{"datum":0}}},
      {"mark":{"type":"rule","color":"#5a8cc0","strokeWidth":0.6},"encoding":{"x":{"datum":7.47,"axis":null},"y":{"datum":0,"axis":null},"y2":{"datum":100}}},
      {"mark":{"type":"rule","color":"#5a8cc0","strokeWidth":0.6},"encoding":{"x":{"datum":17.33,"axis":null},"y":{"datum":0,"axis":null},"y2":{"datum":100}}}
    ]}
   ],"spacing":0}
  ],"spacing":0}
 ],"spacing":0}
]
}
